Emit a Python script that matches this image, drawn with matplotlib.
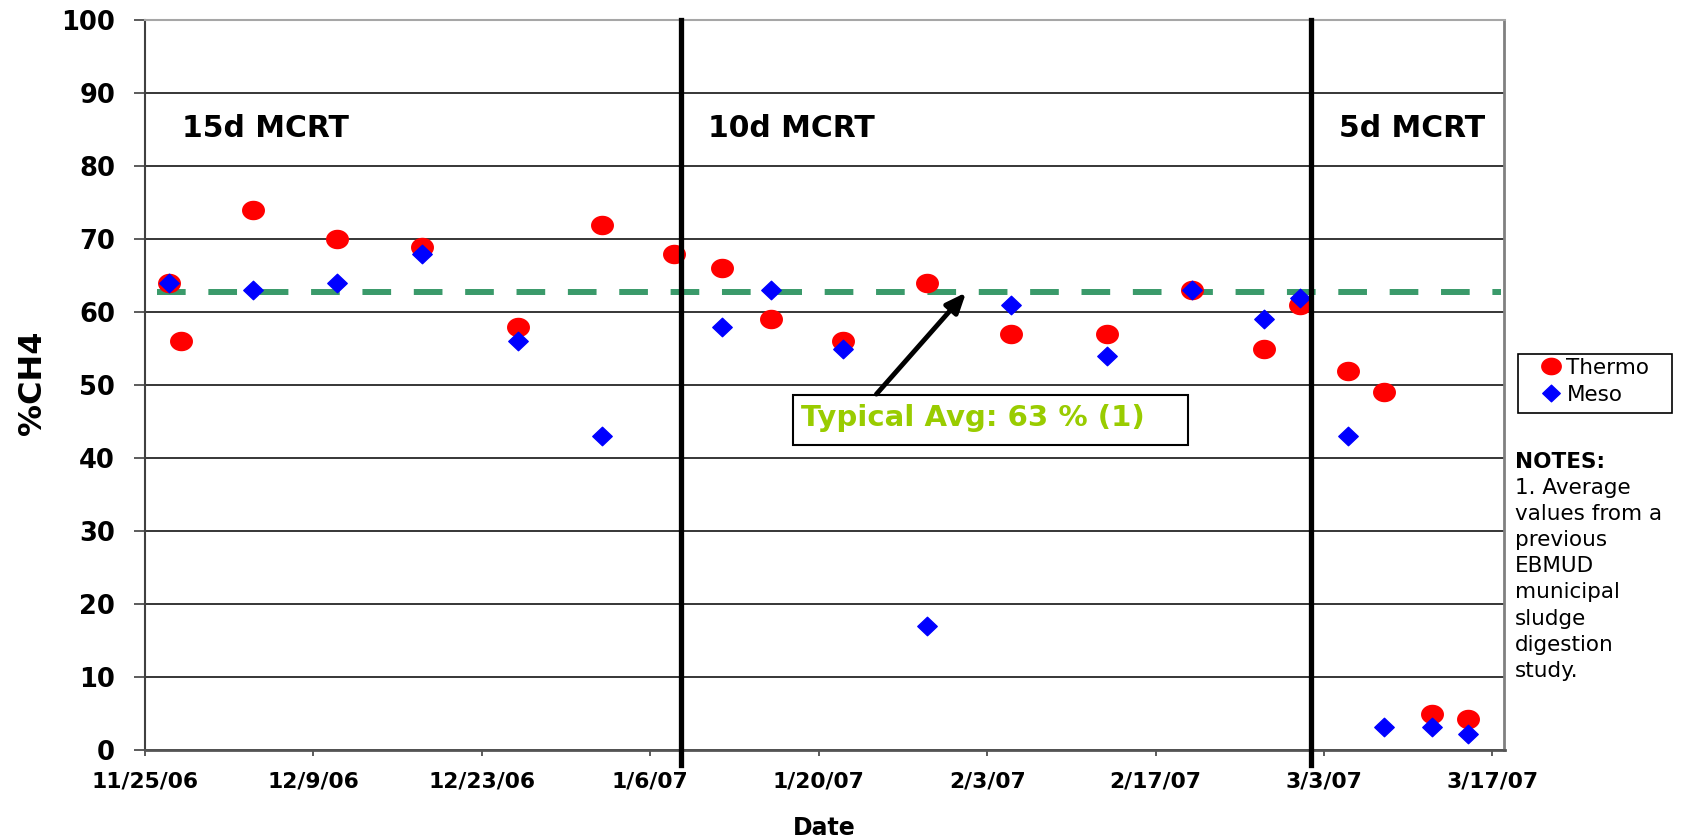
import numpy as np
import pandas as pd
import matplotlib
matplotlib.use("Agg")
from matplotlib import pyplot as plt
from matplotlib.path import Path
from matplotlib.patches import Rectangle

plt.rcParams["font.family"] = "DejaVu Sans"

# %CH4 in digester gas
thermo_dates = ["2006-11-27", "2006-11-28", "2006-12-04", "2006-12-11", "2006-12-18",
                "2006-12-26", "2007-01-02", "2007-01-08", "2007-01-12", "2007-01-16",
                "2007-01-22", "2007-01-29", "2007-02-05", "2007-02-13", "2007-02-20",
                "2007-02-26", "2007-03-01", "2007-03-05", "2007-03-08", "2007-03-12",
                "2007-03-15"]
thermo_pct = [64, 56, 74, 70, 69, 58, 72, 68, 66, 59, 56, 64, 57, 57, 63, 55, 61, 52, 49, 4.9, 4.25]

meso_dates = ["2006-11-27", "2006-12-04", "2006-12-11", "2006-12-18", "2006-12-26",
              "2007-01-02", "2007-01-12", "2007-01-16", "2007-01-22", "2007-01-29",
              "2007-02-05", "2007-02-13", "2007-02-20", "2007-02-26", "2007-03-01",
              "2007-03-05", "2007-03-08", "2007-03-12", "2007-03-15"]
meso_pct = [64, 63, 64, 68, 56, 43, 58, 63, 55, 17, 61, 54, 63, 59, 62, 43, 3.1, 3.1, 2.2]

avg_pct = 62.7  # typical avg, previous EBMUD study
avg_span = ["2006-11-26", "2007-03-17 18:00"]
arrow_tip_date = "2007-02-01 06:00"
mcrt_change = ["2007-01-08 14:00", "2007-03-01 22:00"]
mcrt_labels = ["15d MCRT", "10d MCRT", "5d MCRT"]
x_range = ["2006-11-25", "2007-03-18"]
date_ticks = pd.date_range("2006-11-25", "2007-03-17", freq="14D")
y_ticks = list(range(0, 101, 10))
notes_lines = ["1. Average", "values from a", "previous", "EBMUD", "municipal",
               "sludge", "digestion", "study."]

thermo_dates = pd.to_datetime(thermo_dates)
meso_dates = pd.to_datetime(meso_dates)

# excel-ish markers: slightly squashed circle and diamond
t = np.linspace(0, 2 * np.pi, 64)
ellipse = Path(np.column_stack([np.cos(t), 0.84 * np.sin(t)]), closed=True)
diamond = Path([(0, 0.95), (1, 0), (0, -0.95), (-1, 0), (0, 0.95)], closed=True)

fig = plt.figure(figsize=(16.83, 8.4), dpi=100)
ax = fig.add_axes([145 / 1683, 90 / 840, 1359.5 / 1683, 729.7 / 840])

ax.plot(thermo_dates, thermo_pct, ls="none", marker=ellipse, ms=15.5, color="#ff0000",
        mec="#ff0000", label="Thermo", zorder=3)
ax.plot(meso_dates, meso_pct, ls="none", marker=diamond, ms=14, color="#0000ff",
        mec="#0000ff", label="Meso", zorder=3.1)

ax.hlines(avg_pct, pd.Timestamp(avg_span[0]), pd.Timestamp(avg_span[1]), colors="#3a9a6a",
          lw=4.3, linestyles=(0, (4.8, 3.8)), zorder=2)

for d in mcrt_change:
    ax.axvline(pd.Timestamp(d), ymin=-0.0205, ymax=1, color="black", lw=3.8,
               clip_on=False, zorder=4)

for lbl, xf in zip(mcrt_labels, [0.0272, 0.414, 0.8783]):
    ax.text(xf, 0.8401, lbl, transform=ax.transAxes, fontsize=21.5, fontweight="bold",
            va="baseline")

# callout box + arrow to the average line
ax.add_patch(Rectangle((0.4765, 0.4178), 0.2904, 0.0685, transform=ax.transAxes,
                       fc="white", ec="black", lw=1.5, zorder=5))
ax.text(0.4824, 0.4438, "Typical Avg: 63 % (1)", transform=ax.transAxes, color="#99cc00",
        fontsize=21, fontweight="bold", va="baseline", zorder=6)
ax.annotate("", xy=(pd.Timestamp(arrow_tip_date), avg_pct), xytext=(0.538, 0.4877),
            textcoords="axes fraction",
            arrowprops=dict(arrowstyle="-|>,head_length=0.6,head_width=0.25",
                            lw=3.5, color="black", mutation_scale=20,
                            shrinkA=0, shrinkB=0), zorder=6)

ax.set_xlim(pd.Timestamp(x_range[0]), pd.Timestamp(x_range[1]))
ax.set_ylim(0, 100)
ax.set_xticks(date_ticks)
ax.set_xticklabels([f"{d.month}/{d.day}/{d:%y}" for d in date_ticks])
ax.set_yticks(y_ticks)
ax.tick_params(axis="y", length=8, width=1.2, pad=13.5, labelsize=18.5, color="#404040")
ax.tick_params(axis="x", length=4.5, width=1.2, pad=11, labelsize=15.7, color="#404040")
for lab in ax.get_xticklabels() + ax.get_yticklabels():
    lab.set_fontweight("bold")

ax.yaxis.grid(True, color="black", lw=1.1)
ax.set_axisbelow(True)
ax.spines["left"].set_color("#404040")
ax.spines["left"].set_linewidth(1.5)
ax.spines["bottom"].set_color("#555555")
ax.spines["bottom"].set_linewidth(2)
ax.spines["top"].set_color("#a6a6a6")
ax.spines["top"].set_linewidth(1.5)
ax.spines["right"].set_color("#808080")
ax.spines["right"].set_linewidth(2)

ax.set_ylabel("%CH4", fontsize=23, fontweight="bold")
ax.yaxis.set_label_coords(-0.0825, 0.5027)
ax.yaxis.label.set_va("center")
ax.set_xlabel("Date", fontsize=17, fontweight="bold")
ax.xaxis.set_label_coords(0.5, -0.1068)
ax.xaxis.label.set_va("center")

# legend sits outside the plot, frame drawn separately
fig.patches.append(Rectangle((1518 / 1683, 1 - 413 / 840), 154 / 1683, 59 / 840,
                             transform=fig.transFigure, fc="none", ec="black", lw=1.2))
ax.legend(loc="upper left", bbox_to_anchor=(1540.6 / 1683, 1 - 358 / 840),
          bbox_transform=fig.transFigure, frameon=False, borderpad=0, borderaxespad=0,
          handlelength=1.0, handletextpad=0.2, labelspacing=0.32, markerscale=0.9,
          prop={"size": 15.5})

fig.text(1515 / 1683, 1 - 468 / 840, "NOTES:", fontsize=15.5, fontweight="bold", va="baseline")
for i, line in enumerate(notes_lines):
    fig.text(1515 / 1683, 1 - (494.3 + 26.05 * i) / 840, line, fontsize=15.5, va="baseline")

fig.savefig("out.png", dpi=100)
